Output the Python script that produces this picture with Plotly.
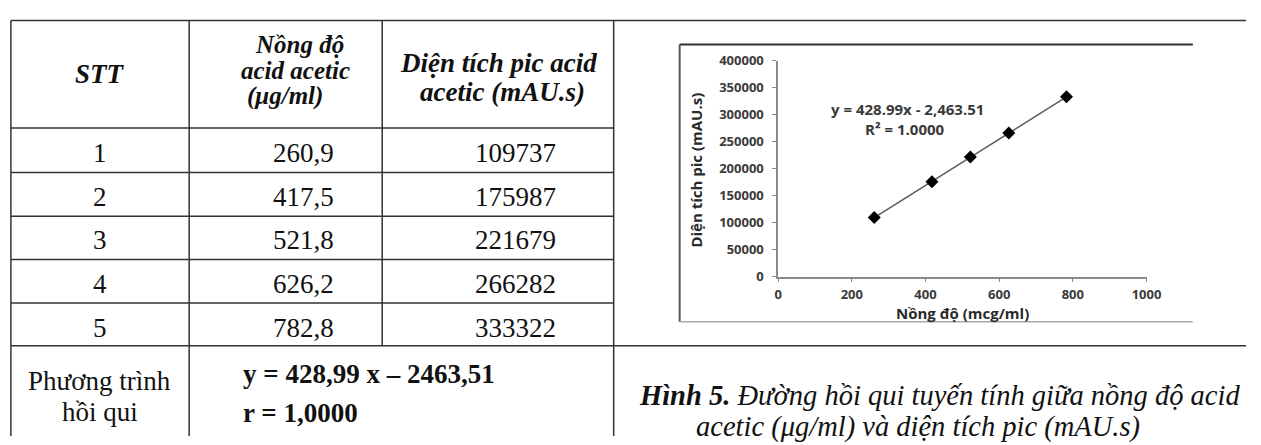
import numpy as np
import plotly.graph_objects as go

# ---------------- data ----------------
stt = [1, 2, 3, 4, 5]
concentration = [260.9, 417.5, 521.8, 626.2, 782.8]          # µg/ml
peak_area = [109737, 175987, 221679, 266282, 333322]         # mAU.s
eq_table = "y = 428,99 x – 2463,51"
r_table = "r = 1,0000"
eq_chart = "y = 428.99x - 2,463.51"
r2_chart = "R² = 1.0000"
x_ticks = [0, 200, 400, 600, 800, 1000]
y_ticks = [0, 50000, 100000, 150000, 200000, 250000, 300000, 350000, 400000]

W, H = 1261, 445
def px(x):
    return x / W
def py(y):
    return 1 - y / H

SERIF = "Liberation Serif, Times New Roman, serif"
SANS = "Open Sans, Noto Sans, sans-serif"
TXT = "#111111"
LINE = "#333333"

fig = go.Figure()

# trend line (least squares from the data)
slope, intercept = np.polyfit(concentration, peak_area, 1)
xl = np.array([min(concentration), max(concentration)])
fig.add_trace(go.Scatter(x=xl, y=slope * xl + intercept, mode="lines",
                         line=dict(color="#5a5a5a", width=1.5),
                         showlegend=False, hoverinfo="skip"))
fig.add_trace(go.Scatter(x=concentration, y=peak_area, mode="markers",
                         marker=dict(symbol="diamond", size=10, color="#000000"),
                         showlegend=False))

axis_font = dict(family=SANS, size=13, color="#3a3a3a", weight="bold")
fig.update_layout(
    width=W, height=H, autosize=False,
    margin=dict(l=0, r=0, t=0, b=0),
    paper_bgcolor="white", plot_bgcolor="white",
    xaxis=dict(domain=[px(786), px(1160)], range=[0, 1000], tickvals=x_ticks,
               showline=True, linecolor="#8a8a8a", linewidth=1.5,
               ticks="outside", ticklen=4, tickcolor="#8a8a8a",
               showgrid=False, zeroline=False, tickfont=axis_font,
               ticklabelstandoff=1),
    yaxis=dict(domain=[py(279), py(54)], range=[0, 400000], tickvals=y_ticks,
               tickformat="d",
               showline=True, linecolor="#8a8a8a", linewidth=1.5,
               ticks="outside", ticklen=4, tickcolor="#8a8a8a",
               showgrid=False, zeroline=False, tickfont=axis_font,
               ticklabelstandoff=6),
)

shapes = []
def hline(y, x0, x1, color=LINE, w=1.5):
    shapes.append(dict(type="line", xref="paper", yref="paper",
                       x0=px(x0), x1=px(x1), y0=py(y), y1=py(y),
                       line=dict(color=color, width=w)))
def vline(x, y0, y1, color=LINE, w=1.5):
    shapes.append(dict(type="line", xref="paper", yref="paper",
                       x0=px(x), x1=px(x), y0=py(y0), y1=py(y1),
                       line=dict(color=color, width=w)))

# outer table grid
hline(12, 7, W)
hline(351, 7, W)
for yy in [124, 170.5, 216, 261, 306.5]:
    hline(yy, 7, 619)
vline(7, 12, H)
vline(188, 12, H)
vline(384, 12, 351)
vline(619, 12, H)

# chart picture frame
hline(37, 686, 1207, color="#2e2e2e", w=2)
vline(686, 37, 326, color="#555555", w=2)
hline(326, 686, 1207, color="#a8a8a8", w=1.5)

fig.update_layout(shapes=shapes)

ann = []
def text(t, x, y, size=27, xanchor="center", family=SERIF, color=TXT, angle=0, weight=None):
    f = dict(family=family, size=size, color=color)
    if weight:
        f["weight"] = weight
    ann.append(dict(text=t, x=px(x), y=py(y), xref="paper", yref="paper",
                    xanchor=xanchor, yanchor="middle", showarrow=False,
                    textangle=angle, font=f))

# header
text("<b><i>STT</i></b>", 97, 68)
text("<b><i>Nồng độ</i></b>", 300, 37, size=25)
text("<b><i>acid acetic</i></b>", 296, 64, size=25)
text("<b><i>(μg/ml)</i></b>", 285, 91, size=25)
text("<b><i>Diện tích pic acid</i></b>", 502, 56)
text("<b><i>acetic (mAU.s)</i></b>", 506, 87)

# body rows
row_y = [150, 195.5, 241, 286.5, 332]
for i in range(len(stt)):
    text(str(stt[i]), 97, row_y[i])
    text(f"{concentration[i]:.1f}".replace(".", ","), 304, row_y[i])
    text(str(peak_area[i]), 519, row_y[i])

# bottom row
text("Phương trình", 97, 388)
text("hồi qui", 97, 420)
text(f"<b>{eq_table}</b>", 241, 380, xanchor="left")
text(f"<b>{r_table}</b>", 241, 421, xanchor="left")

# caption
text("<b><i>Hình 5.</i></b><i> Đường hồi qui tuyến tính giữa nồng độ acid</i>", 950, 403, size=28.5)
text("<i>acetic (μg/ml) và diện tích pic (mAU.s)</i>", 928, 436, size=28.5)

# chart texts
text(eq_chart, 917, 104, size=15, family=SANS, color="#3a3a3a", weight="bold")
text(r2_chart, 915, 125.5, size=15, family=SANS, color="#3a3a3a", weight="bold")
text("Nồng độ (mcg/ml)", 973, 317, size=15, family=SANS, color="#2a2a2a", weight="bold")
text("Diện tích pic (mAU.s)", 703, 168, size=15, family=SANS, color="#2a2a2a",
     weight="bold", angle=-90)

fig.update_layout(annotations=ann)
fig.write_html("out.html")
